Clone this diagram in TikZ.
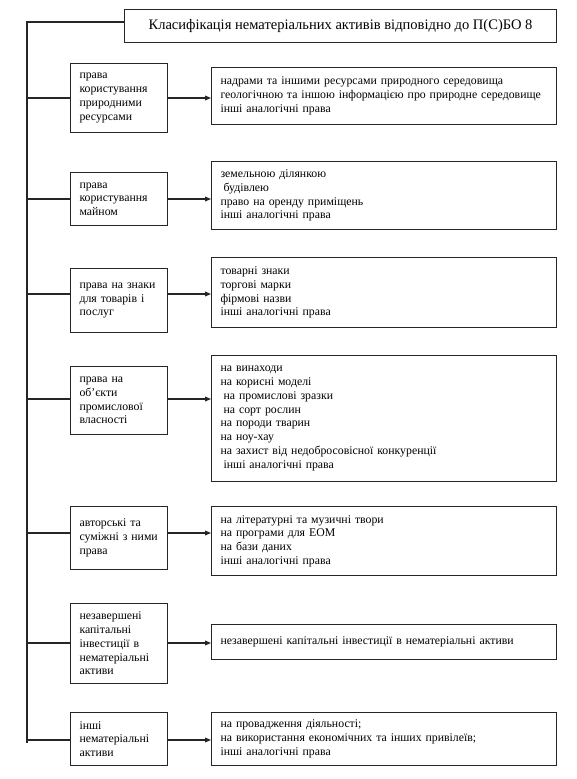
\documentclass[tikz,border=0pt]{standalone}
\usepackage{fontspec}
\setmainfont{Liberation Serif}
\usetikzlibrary{arrows.meta}
\newcommand{\lsp}{\hspace*{2.3pt}}
\begin{document}
\begin{tikzpicture}[x=0.75pt,y=-0.75pt,
  boxline/.style={draw=black!85, line width=0.8pt},
  lbox/.style={boxline, rectangle, anchor=north west, inner xsep=6.75pt, inner ysep=0pt,
    text width=59.25pt, align=left, font=\fontsize{8.85}{10.3}\selectfont},
  rbox/.style={boxline, rectangle, anchor=north west, inner xsep=6.75pt, inner ysep=0pt,
    text width=245.25pt, align=left, font=\fontsize{8.85}{10.3}\selectfont},
  titlebox/.style={boxline, rectangle, anchor=north west, inner sep=0pt,
    minimum width=324pt, minimum height=24.75pt, font=\fontsize{10.9}{13}\selectfont},
  link/.style={draw=black!85, line width=0.8pt},
  arr/.style={link, -{Triangle[length=4.5pt,width=3.6pt]}}]
\useasboundingbox (0,0) rectangle (577,779);

\node[titlebox] (T) at (124,9) {Класифікація нематеріальних активів відповідно до П(С)БО 8};

% row 1
\node[lbox, minimum height=51.75pt] (L1) at (70,63) {права\\користування\\природними\\ресурсами};
\node[rbox, minimum height=42.75pt] (R1) at (211,67) {надрами та іншими ресурсами природного середовища\\геологічною та іншою інформацією про природне середовище\\інші аналогічні права};
% row 2
\node[lbox, minimum height=39.75pt] (L2) at (70,172) {права\\користування\\майном};
\node[rbox, minimum height=51pt] (R2) at (211,161) {земельною ділянкою\\\lsp будівлею\\право на оренду приміщень\\інші аналогічні права};
% row 3
\node[lbox, minimum height=48pt] (L3) at (70,268) {права~на~знаки\\для~товарів~і\\послуг};
\node[rbox, minimum height=52.5pt] (R3) at (211,257) {товарні знаки\\торгові марки\\фірмові назви\\інші аналогічні права};
% row 4
\node[lbox, minimum height=51pt] (L4) at (70,366) {права на\\об’єкти\\промислової\\власності};
\node[rbox, minimum height=94.5pt] (R4) at (211,355) {на винаходи\\на корисні моделі\\\lsp на промислові зразки\\\lsp на сорт рослин\\на породи тварин\\на ноу-хау\\на захист від недобросовісної конкуренції\\\lsp інші аналогічні права};
% row 5
\node[lbox, minimum height=47.25pt] (L5) at (70,506) {авторські~та\\суміжні~з~ними\\права};
\node[rbox, minimum height=51.75pt] (R5) at (211,506) {на літературні та музичні твори\\на програми для ЕОМ\\на бази даних\\інші аналогічні права};
% row 6
\node[lbox, minimum height=60pt] (L6) at (70,603) {незавершені\\капітальні\\інвестиції~в\\нематеріальні\\активи};
\node[rbox, minimum height=26.25pt] (R6) at (211,624) {незавершені капітальні інвестиції в нематеріальні активи};
% row 7
\node[lbox, minimum height=39.75pt] (L7) at (70,712) {інші\\нематеріальні\\активи};
\node[rbox, minimum height=39.75pt] (R7) at (211,712) {на провадження діяльності;\\на використання економічних та інших привілеїв;\\інші аналогічні права};

% trunk
\coordinate (top) at (27,22);
\coordinate (c1) at (27,98);
\coordinate (c2) at (27,199);
\coordinate (c3) at (27,294);
\coordinate (c4) at (27,399);
\coordinate (c5) at (27,533);
\coordinate (c6) at (27,643);
\coordinate (c7) at (27,740);
\coordinate (bot) at (27,743);
\draw[link] (T.west |- top) -- (top) -- (bot);
\foreach \i in {1,...,7} {
  \draw[link] (c\i) -- (c\i -| L\i.west);
  \draw[arr] (c\i -| L\i.east) -- (c\i -| R\i.west);
}
\end{tikzpicture}
\end{document}
